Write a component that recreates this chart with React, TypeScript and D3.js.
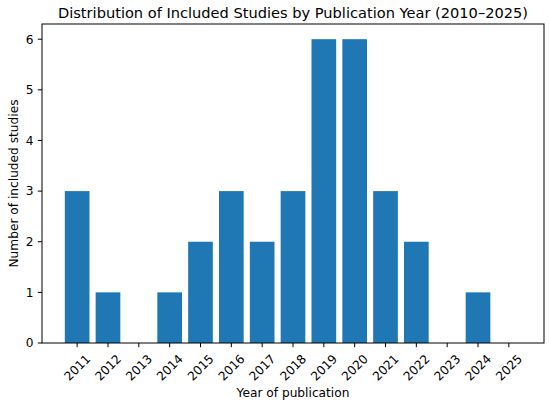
import React, { useEffect, useRef } from "react";
import * as d3 from "d3";

const years = [2011, 2012, 2013, 2014, 2015, 2016, 2017, 2018, 2019, 2020, 2021, 2022, 2023, 2024, 2025];
const counts = [3, 1, 0, 1, 2, 3, 2, 3, 6, 6, 3, 2, 0, 1, 0];
const yTicks = [0, 1, 2, 3, 4, 5, 6];

const title = "Distribution of Included Studies by Publication Year (2010\u20132025)";
const xTitle = "Year of publication";
const yTitle = "Number of included studies";

const W = 550;
const H = 402;
const margin = { left: 42, right: 6, top: 24, bottom: 59 };
const font = "DejaVu Sans, sans-serif";
const fs = 12.2;

const App = () => {
  const ref = useRef(null);

  useEffect(() => {
    const svg = d3.select(ref.current);
    svg.selectAll("*").remove();

    const x0 = margin.left;
    const x1 = W - margin.right;
    const y0 = H - margin.bottom;
    const y1 = margin.top;

    // matplotlib-like limits: bars of width 0.8 plus 5% margin
    const lo = years[0] - 0.4;
    const hi = years[years.length - 1] + 0.4;
    const pad = (hi - lo) * 0.05;
    const x = d3.scaleLinear().domain([lo - pad, hi + pad]).range([x0, x1]);
    const y = d3.scaleLinear().domain([0, 6.3]).range([y0, y1]);

    const bw = x(0.8) - x(0);

    svg
      .selectAll("rect.bar")
      .data(years.map((yr, i) => ({ yr, v: counts[i] })))
      .enter()
      .append("rect")
      .attr("class", "bar")
      .attr("x", (d) => x(d.yr) - bw / 2)
      .attr("y", (d) => y(d.v))
      .attr("width", bw)
      .attr("height", (d) => y(0) - y(d.v))
      .attr("fill", "#1f77b4");

    // frame
    svg
      .append("rect")
      .attr("x", x0)
      .attr("y", y1)
      .attr("width", x1 - x0)
      .attr("height", y0 - y1)
      .attr("fill", "none")
      .attr("stroke", "#000")
      .attr("stroke-width", 1);

    const tl = 4.2;

    // y ticks
    const yg = svg.append("g");
    yTicks.forEach((t) => {
      yg.append("line")
        .attr("x1", x0 - tl)
        .attr("x2", x0)
        .attr("y1", y(t))
        .attr("y2", y(t))
        .attr("stroke", "#000")
        .attr("stroke-width", 1);
      yg.append("text")
        .attr("x", x0 - tl - 4.2)
        .attr("y", y(t))
        .attr("dy", "0.36em")
        .attr("text-anchor", "end")
        .attr("font-family", font)
        .attr("font-size", fs)
        .attr("fill", "#000")
        .text(t);
    });

    // x ticks
    const xg = svg.append("g");
    years.forEach((yr) => {
      xg.append("line")
        .attr("x1", x(yr))
        .attr("x2", x(yr))
        .attr("y1", y0)
        .attr("y2", y0 + tl)
        .attr("stroke", "#000")
        .attr("stroke-width", 1);
      xg.append("text")
        .attr("transform", `translate(${x(yr)},${y0 + 24.5}) rotate(-45)`)
        .attr("dy", "0.36em")
        .attr("text-anchor", "middle")
        .attr("font-family", font)
        .attr("font-size", fs)
        .attr("fill", "#000")
        .text(yr);
    });

    svg
      .append("text")
      .attr("x", (x0 + x1) / 2)
      .attr("y", 18)
      .attr("text-anchor", "middle")
      .attr("font-family", font)
      .attr("font-size", 14.6)
      .attr("fill", "#000")
      .text(title);

    svg
      .append("text")
      .attr("x", (x0 + x1) / 2)
      .attr("y", 397)
      .attr("text-anchor", "middle")
      .attr("font-family", font)
      .attr("font-size", fs)
      .attr("fill", "#000")
      .text(xTitle);

    svg
      .append("text")
      .attr("transform", `translate(18,${(y0 + y1) / 2}) rotate(-90)`)
      .attr("text-anchor", "middle")
      .attr("font-family", font)
      .attr("font-size", fs)
      .attr("fill", "#000")
      .text(yTitle);
  }, []);

  return (
    <div style={{ position: "absolute", left: 0, top: 0 }}>
      <svg ref={ref} width={W} height={H} style={{ display: "block", background: "#fff" }}></svg>
    </div>
  );
};

export default App;
